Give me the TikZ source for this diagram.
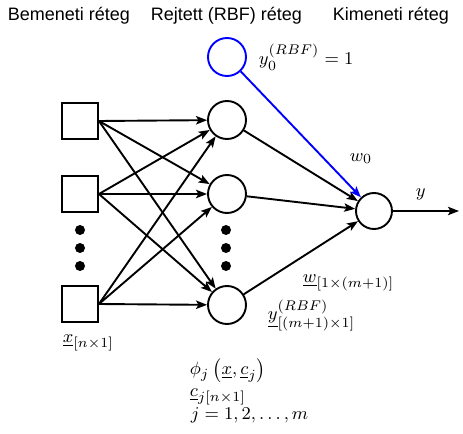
\documentclass[tikz,border=0pt]{standalone}
\usepackage{fontspec}
\newfontfamily\hdrfont{Liberation Sans}
\usetikzlibrary{arrows.meta}
\begin{document}
\begin{tikzpicture}[x=0.5pt,y=-0.5pt, line width=0.95pt,
  inbox/.style={draw, minimum size=18pt, inner sep=0pt},
  neuron/.style={draw, circle, minimum size=19pt, inner sep=0pt},
  arr/.style={-{Stealth[length=5.5pt,width=4.2pt,inset=1.2pt]}},
  bigdot/.style={fill, circle, minimum size=5pt, inner sep=0pt},
  hdr/.style={font=\hdrfont\fontsize{9}{11}\selectfont, inner sep=0pt, anchor=base west},
  lbl/.style={font=\fontsize{9.5}{11}\selectfont, inner sep=0pt, anchor=base west}]
\useasboundingbox (0,0) rectangle (463,434);
% headers
\node[hdr] (t1) at (7,20) {Bemeneti réteg};
\node[hdr] (t2) at (150,20) {Rejtett (RBF) réteg};
\node[hdr] (t3) at (332,20) {Kimeneti réteg};
% input layer
\node[inbox] (i1) at (80,121) {};
\node[inbox] (i2) at (80,194) {};
\node[inbox] (i3) at (80,304) {};
\node[bigdot] (di1) at (80,230) {};
\node[bigdot] (di2) at (80,248) {};
\node[bigdot] (di3) at (80,266) {};
% hidden layer
\node[neuron, draw=blue] (h0) at (227,57) {};
\node[neuron] (h1) at (227,120) {};
\node[neuron] (h2) at (227,194) {};
\node[neuron] (h3) at (227,305) {};
\node[bigdot] (dh1) at (226,230) {};
\node[bigdot] (dh2) at (226,248) {};
\node[bigdot] (dh3) at (226,266) {};
% output
\node[neuron, minimum size=18pt] (out) at (374,211) {};
\coordinate (yend) at (459,211);
% connections
\foreach \i in {1,2,3}{
  \foreach \j in {1,2,3}{
    \draw[arr] (i\i.east) -- (h\j);
  }
  \draw[arr] (h\i) -- (out);
}
\draw[arr, blue] (h0) -- (out);
\draw[arr] (out) -- (yend);
% labels
\node[lbl] (ly0) at (258,64) {$y_0^{(RBF)}=1$};
\node[lbl] (lw0) at (349,161) {$w_0$};
\node[lbl] (ly) at (415,196) {$y$};
\node[lbl] (lw) at (302,283) {$\underline{w}_{[1\times(m+1)]}$};
\node[lbl] (lyr) at (267,320) {$\underline{y}^{(RBF)}_{[(m+1)\times 1]}$};
\node[lbl] (lx) at (62,343) {$\underline{x}_{[n\times 1]}$};
\node[lbl] (lphi) at (189,375) {$\phi_j\left(\underline{x},\underline{c}_j\right)$};
\node[lbl] (lc) at (189,397) {$\underline{c}_{j[n\times 1]}$};
\node[lbl] (lj) at (190,420) {$j=1,2,\ldots,m$};
\end{tikzpicture}
\end{document}
